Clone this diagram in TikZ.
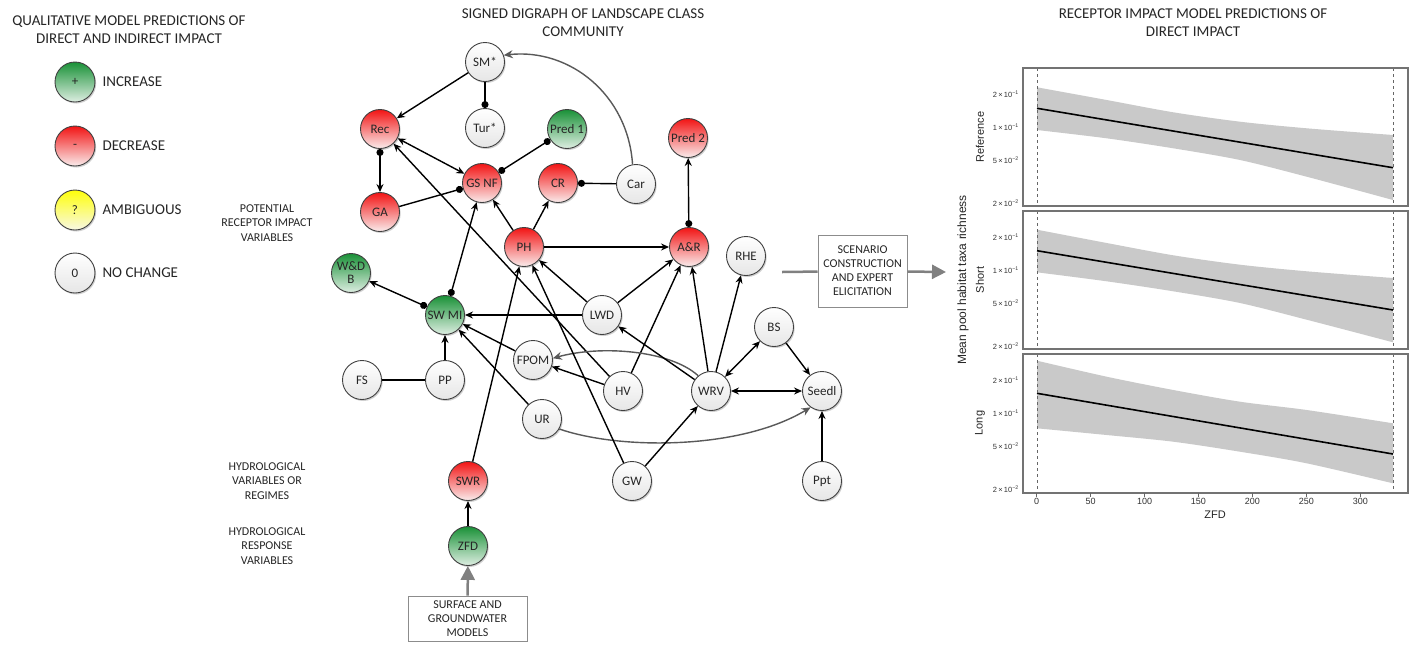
\documentclass[tikz,border=0pt]{standalone}
\usepackage{fontspec}
\setmainfont{Carlito}
\newfontfamily\plotfont{Liberation Sans}
\usetikzlibrary{arrows.meta,shadows}
\definecolor{rtop}{RGB}{242,20,20}
\definecolor{rbot}{RGB}{250,236,236}
\definecolor{gtop}{RGB}{25,145,55}
\definecolor{gbot}{RGB}{222,238,226}
\definecolor{wtop}{RGB}{255,255,255}
\definecolor{wbot}{RGB}{230,230,230}
\definecolor{ytop}{RGB}{255,255,10}
\definecolor{ybot}{RGB}{248,248,228}
\tikzset{
 tipA/.tip={Stealth[length=8pt,width=7pt]},
 tipD/.tip={Circle[length=7pt]},
 tipG/.tip={Stealth[length=9pt,width=8pt]},
 tipB/.tip={Triangle[length=14pt,width=14pt]},
 nd/.style={circle, draw=black!75, line width=0.9pt, minimum size=39pt, inner sep=0pt, font=\fontsize{13}{13}\selectfont, text=black!85,
   drop shadow={shadow xshift=1.2pt, shadow yshift=-1.5pt, opacity=0.3, fill=black!60}},
 nred/.style={nd, top color=rtop, bottom color=rbot},
 ngreen/.style={nd, top color=gtop, bottom color=gbot},
 nwhite/.style={nd, top color=wtop, bottom color=wbot},
 nyellow/.style={nd, top color=ytop, bottom color=ybot},
 edge/.style={line width=1.4pt, black},
 gedge/.style={line width=1.4pt, black!65},
 lbl/.style={font=\fontsize{12}{14.5}\selectfont, align=center, text=black!85},
 ttl/.style={font=\fontsize{15}{18}\selectfont, align=center, text=black!85},
 bx/.style={draw=black!45, line width=1pt, fill=white, font=\fontsize{12}{14}\selectfont, align=center, inner sep=1pt, text=black!85},
 garrow/.style={line width=2.5pt, black!50},
 panel/.style={draw=black!55, line width=1.6pt},
 band/.style={fill=black!21},
 ptick/.style={font=\plotfont\fontsize{7.5}{8}\selectfont, anchor=east, text=black!80, inner sep=1pt},
 strip/.style={rotate=90, font=\plotfont\fontsize{11}{12}\selectfont, text=black!85},
}
\begin{document}
\begin{tikzpicture}[x=1pt,y=-1pt]
\useasboundingbox (0,0) rectangle (1415,649);
\fill[white] (0,0) rectangle (1415,649);

% ---------- legend ----------
\node[ttl] (lt) at (129,30) {QUALITATIVE MODEL PREDICTIONS OF\\DIRECT AND INDIRECT IMPACT};
\node[ngreen, minimum size=40pt] (L1) at (75,82) {+};
\node[nred, minimum size=40pt] (L2) at (75,146) {-};
\node[nyellow, minimum size=40pt] (L3) at (75,210) {?};
\node[nwhite, minimum size=40pt] (L4) at (75,273) {0};
\node[ttl, anchor=west] (L1t) at (99,82) {INCREASE};
\node[ttl, anchor=west] (L2t) at (99,146) {DECREASE};
\node[ttl, anchor=west] (L3t) at (99,210) {AMBIGUOUS};
\node[ttl, anchor=west] (L4t) at (99,273) {NO CHANGE};

\node[lbl] (pr) at (267,223) {POTENTIAL\\RECEPTOR IMPACT\\VARIABLES};
\node[lbl] (hv) at (267,481) {HYDROLOGICAL\\VARIABLES OR\\REGIMES};
\node[lbl] (hr) at (267,546) {HYDROLOGICAL\\RESPONSE\\VARIABLES};

% ---------- digraph ----------
\node[ttl] (gt) at (583,23) {SIGNED DIGRAPH OF LANDSCAPE CLASS\\COMMUNITY};

\node[nwhite] (SM) at (485,62) {SM*};
\node[nwhite] (Tur) at (485,128) {Tur*};
\node[ngreen] (Pred1) at (567,129) {Pred 1};
\node[nred] (Rec) at (380,129) {Rec};
\node[nred] (GSNF) at (482,183) {GS NF};
\node[nred] (CR) at (558,183) {CR};
\node[nwhite] (Car) at (636,184) {Car};
\node[nred] (GA) at (380,212) {GA};
\node[nred] (Pred2) at (688,138) {Pred 2};
\node[nred] (PH) at (524,247) {PH};
\node[nred] (AR) at (689,247) {A\&R};
\node[nwhite] (RHE) at (746,256) {RHE};
\node[ngreen, align=center] (WDB) at (351,273) {W\&D\\B};
\node[ngreen] (SWMI) at (445,315) {SW MI};
\node[nwhite] (LWD) at (602,315) {LWD};
\node[nwhite] (FPOM) at (533,360) {FPOM};
\node[nwhite] (HV) at (623,391) {HV};
\node[nwhite] (WRV) at (711,391) {WRV};
\node[nwhite] (BS) at (774,327) {BS};
\node[nwhite] (Seedl) at (822,391) {Seedl};
\node[nwhite] (FS) at (362,380) {FS};
\node[nwhite] (PP) at (445,380) {PP};
\node[nwhite] (UR) at (542,419) {UR};
\node[nwhite] (GW) at (632,481) {GW};
\node[nwhite] (Ppt) at (822,481) {Ppt};
\node[nred] (SWR) at (468,481) {SWR};
\node[ngreen] (ZFD) at (468,546) {ZFD};

\node[bx, minimum width=119pt, minimum height=45pt] (surf) at (467.5,618.5) {SURFACE AND\\GROUNDWATER\\MODELS};
\node[bx, minimum width=89pt, minimum height=72pt] (scen) at (862.5,271) {SCENARIO\\CONSTRUCTION\\AND EXPERT\\ELICITATION};
\coordinate (scL) at (782,272);
\coordinate (scR) at (946,272);

\draw[edge,-tipA] (SM) -- (Rec);
\draw[edge,-tipD] (SM) -- (Tur);
\draw[gedge,-tipG] (Car.100) .. controls (628,95) and (570,48) .. (SM.20);
\draw[edge,tipA-tipA] (Rec) -- (GSNF);
\draw[edge,tipD-tipA] (Rec) -- (GA);
\draw[edge,-tipD] (GA) -- (GSNF);
\draw[edge,tipD-tipD] (Pred1) -- (GSNF);
\draw[edge,-tipD] (Car) -- (CR);
\draw[edge,-tipA] (PH) -- (GSNF);
\draw[edge,-tipA] (PH) -- (CR);
\draw[edge,-tipA] (PH) -- (AR);
\draw[edge,tipD-tipA] (AR) -- (Pred2);
\draw[edge,tipD-tipA] (SWMI) -- (GSNF);
\draw[edge,tipD-tipA] (SWMI) -- (WDB);
\draw[edge,-tipA] (LWD) -- (SWMI);
\draw[edge,-tipA] (LWD) -- (PH);
\draw[edge,-tipA] (LWD) -- (AR);
\draw[edge,-tipA] (HV) -- (Rec);
\draw[edge,-tipA] (HV) -- (FPOM);
\draw[edge,-tipA] (HV) -- (AR);
\draw[edge,-tipA] (FPOM) -- (SWMI);
\draw[edge,-tipA] (UR) -- (SWMI);
\draw[gedge,-tipG] (UR.-30) .. controls (620,450) and (740,450) .. (Seedl.-125);
\draw[gedge,-tipG] (WRV.130) .. controls (670,350) and (600,345) .. (FPOM.5);
\draw[edge,-tipA] (WRV) -- (LWD);
\draw[edge,-tipA] (WRV) -- (AR);
\draw[edge,-tipA] (WRV) -- (RHE);
\draw[edge,tipA-tipA] (WRV) -- (BS);
\draw[edge,tipA-tipA] (WRV) -- (Seedl);
\draw[edge,-tipA] (BS) -- (Seedl);
\draw[edge,-tipA] (Ppt) -- (Seedl);
\draw[edge,-tipA] (GW) -- (WRV);
\draw[edge,-tipA] (GW) -- (PH);
\draw[edge,-tipA] (SWR) -- (PH);
\draw[edge,-tipA] (PP) -- (SWMI);
\draw[edge] (FS) -- (PP);
\draw[edge,-tipA] (ZFD) -- (SWR);
\draw[garrow,-tipB] (surf) -- (ZFD);
\draw[garrow] (scL) -- (scen);
\draw[garrow,-tipB] (scen) -- (scR);

% ---------- plots ----------
\node[ttl] (pt) at (1193,23) {RECEPTOR IMPACT MODEL PREDICTIONS OF\\DIRECT IMPACT};
\node[rotate=90, font=\plotfont\fontsize{12}{13}\selectfont, text=black!85] (ylab) at (963,280) {Mean pool habitat taxa richness};

\begin{scope}[shift={(0,68)}]
\fill[band] plot[smooth] coordinates {(1037,19.3) (1106.7,32) (1173.3,44.3) (1240,53.7) (1306.7,60.3) (1393,67)} -- plot[smooth] coordinates {(1393,132) (1306.7,108.7) (1240,92) (1173.3,80.3) (1106.7,70.3) (1037,62)} -- cycle;
\draw[line width=1.6pt] (1037,40.3) -- (1393,99.7);
\draw[dashed, black!60, line width=0.8pt] (1037,0) -- (1037,138) (1393,0) -- (1393,138);
\draw[panel] (1023,0) rectangle (1408,138);
\node[strip] (s1) at (980,69) {Reference};
\node[ptick] (a1) at (1020,26) {2\,×\,10\textsuperscript{−1}};
\node[ptick] (a2) at (1020,59) {1\,×\,10\textsuperscript{−1}};
\node[ptick] (a3) at (1020,92) {5\,×\,10\textsuperscript{−2}};
\node[ptick] (a4) at (1020,135) {2\,×\,10\textsuperscript{−2}};
\end{scope}

\begin{scope}[shift={(0,211)}]
\fill[band] plot[smooth] coordinates {(1037,18.7) (1106.7,32) (1173.3,44.3) (1240,53.7) (1306.7,60.3) (1393,67)} -- plot[smooth] coordinates {(1393,131.3) (1306.7,108.7) (1240,92) (1173.3,80.3) (1106.7,70.3) (1037,61.3)} -- cycle;
\draw[line width=1.6pt] (1037,39.7) -- (1393,99);
\draw[dashed, black!60, line width=0.8pt] (1037,0) -- (1037,138) (1393,0) -- (1393,138);
\draw[panel] (1023,0) rectangle (1408,138);
\node[strip] (s2) at (980,69) {Short};
\node[ptick] (b1) at (1020,26) {2\,×\,10\textsuperscript{−1}};
\node[ptick] (b2) at (1020,59) {1\,×\,10\textsuperscript{−1}};
\node[ptick] (b3) at (1020,92) {5\,×\,10\textsuperscript{−2}};
\node[ptick] (b4) at (1020,135) {2\,×\,10\textsuperscript{−2}};
\end{scope}

\begin{scope}[shift={(0,354)}]
\fill[band] plot[smooth] coordinates {(1037,6.7) (1106.7,22.7) (1173.3,36) (1240,47.7) (1306.7,56) (1393,69.3)} -- plot[smooth] coordinates {(1393,129.3) (1306.7,109.3) (1240,97.7) (1173.3,87.7) (1106.7,81) (1037,74.3)} -- cycle;
\draw[line width=1.6pt] (1037,39.3) -- (1393,100);
\draw[dashed, black!60, line width=0.8pt] (1037,0) -- (1037,139) (1393,0) -- (1393,139);
\draw[panel] (1023,0) rectangle (1408,139);
\node[strip] (s3) at (980,69) {Long};
\node[ptick] (c1) at (1020,26) {2\,×\,10\textsuperscript{−1}};
\node[ptick] (c2) at (1020,59) {1\,×\,10\textsuperscript{−1}};
\node[ptick] (c3) at (1020,92) {5\,×\,10\textsuperscript{−2}};
\node[ptick] (c4) at (1020,135) {2\,×\,10\textsuperscript{−2}};
\end{scope}

\foreach \v in {0,50,...,300} {
  \draw[black!60, line width=0.8pt] ({1036.7+1.0785*\v},493) -- ({1036.7+1.0785*\v},497);
  \node[font=\plotfont\fontsize{9}{10}\selectfont, text=black!80] (xt\v) at ({1036.7+1.0785*\v},501) {\v};
}
\node[font=\plotfont\fontsize{11}{12}\selectfont, text=black!85] (xl) at (1215,515) {ZFD};
\end{tikzpicture}
\end{document}
